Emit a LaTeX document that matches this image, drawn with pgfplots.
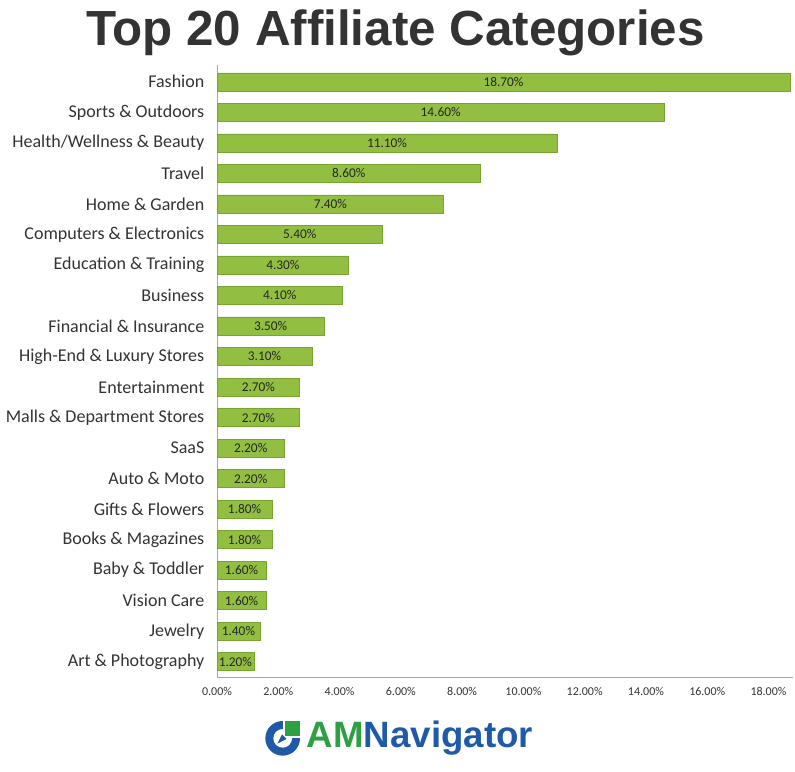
\documentclass[border=0pt]{standalone}
\usepackage{pgfplots}
\pgfplotsset{compat=1.18}
\usepackage{fontspec}
\setmainfont{Carlito}
\newfontfamily\titlefont{Liberation Sans}
\definecolor{titlegray}{HTML}{333333}
\definecolor{barmid}{HTML}{92BE42}
\definecolor{barbot}{HTML}{7AA432}
\definecolor{logogreen}{HTML}{2EA043}
\definecolor{logoblue}{HTML}{1E5AA8}
\pgfplotstableread{
idx val
0 18.7
1 14.6
2 11.1
3 8.6
4 7.4
5 5.4
6 4.3
7 4.1
8 3.5
9 3.1
10 2.7
11 2.7
12 2.2
13 2.2
14 1.8
15 1.8
16 1.6
17 1.6
18 1.4
19 1.2
}\datatable
\begin{document}
\begin{tikzpicture}
\path[use as bounding box] (0,0) rectangle (596.25pt,578.25pt);
% title
\node[font=\titlefont\bfseries\fontsize{37}{42}\selectfont, text=titlegray, anchor=base] at (296.5pt,544pt) {Top 20 Affiliate Categories};
\begin{axis}[
  at={(162.75pt,70.5pt)}, anchor=south west,
  scale only axis, width=432pt, height=459pt,
  xmin=0, xmax=18.8,
  ymin=-0.55, ymax=19.5,
  y dir=reverse,
  axis x line*=bottom, axis y line*=left,
  axis line style={draw=gray!70, -},
  major tick length=0pt,
  xtick={0,2,...,18},
  xticklabel={\pgfmathprintnumber[fixed,fixed zerofill,precision=2]{\tick}\%},
  /pgf/number format/assume math mode=true,
  xticklabel style={font=\fontsize{9}{10}\selectfont, text=black!80, yshift=-4pt},
  ytick={0,...,19},
  yticklabels={Fashion, Sports \& Outdoors, Health/Wellness \& Beauty, Travel, Home \& Garden, Computers \& Electronics, Education \& Training, Business, Financial \& Insurance, High-End \& Luxury Stores, Entertainment, Malls \& Department Stores, SaaS, Auto \& Moto, Gifts \& Flowers, Books \& Magazines, Baby \& Toddler, Vision Care, Jewelry, Art \& Photography},
  yticklabel style={font=\fontsize{13.5}{15}\selectfont, text=black!80, anchor=east, xshift=-6pt},
  clip=false,
]
\addplot[xbar, bar width=13.5pt, draw=barbot, line width=0.4pt, fill=barmid,
  visualization depends on={x \as \rawx},
  nodes near coords={\pgfmathprintnumber[fixed,fixed zerofill,precision=2]{\pgfplotspointmeta}\%},
  point meta=x,
  every node near coord/.append style={font=\fontsize{10}{11}\selectfont, text=black!85, anchor=center, shift={(axis direction cs:-\rawx/2,0)}, /pgf/number format/assume math mode=true},
] table[x=val, y=idx] {\datatable};
\end{axis}
% logo
\begin{scope}[shift={(212pt,24.5pt)}]
  \fill[logoblue] (0,0) circle (13pt);
  \fill[white] (0,0) circle (7pt);
  \fill[white] (0pt,0pt) rectangle (14pt,14pt);
  \fill[logogreen] (2pt,2pt) rectangle (13pt,13pt);
  \fill[logoblue] (-4pt,-4pt) -- (3pt,-0.5pt) -- (-0.5pt,3pt) -- cycle;
\end{scope}
\node[anchor=west, font=\titlefont\bfseries\fontsize{27.5}{30}\selectfont, inner sep=0pt] at (230pt,24.5pt) {\textcolor{logogreen}{AM}\textcolor{logoblue}{Navigator}};
\end{tikzpicture}
\end{document}
